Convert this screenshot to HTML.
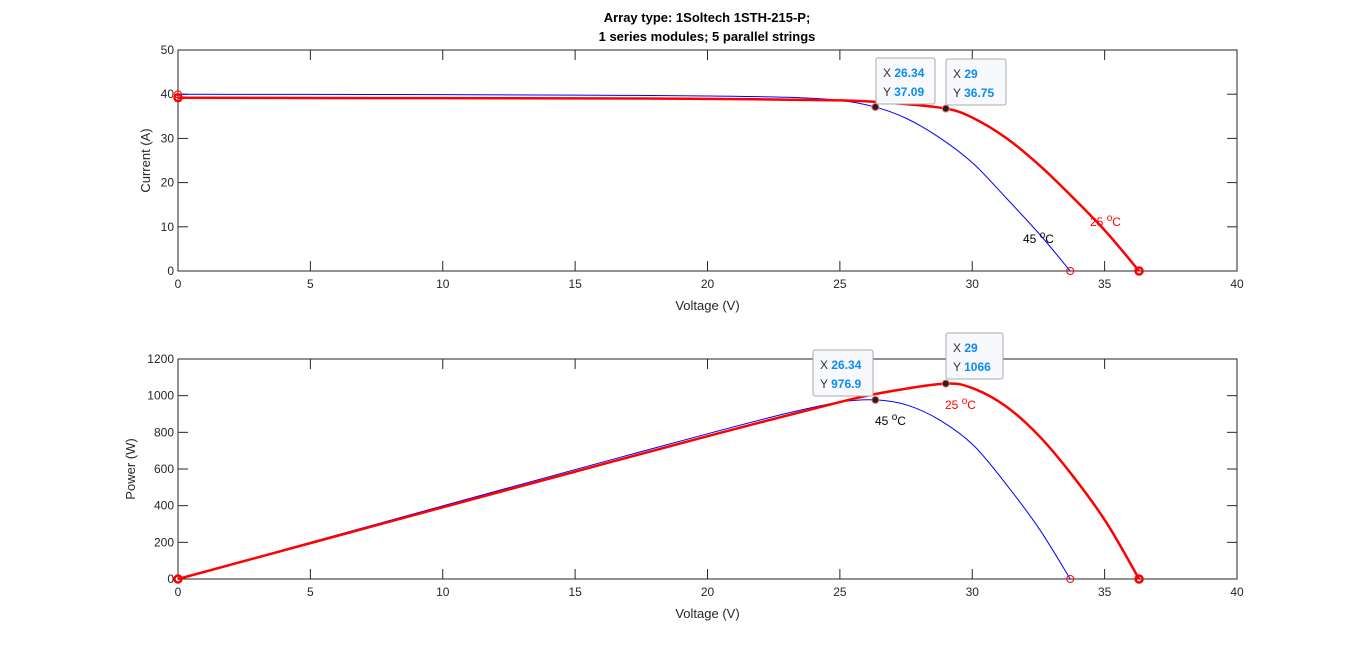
<!DOCTYPE html>
<html><head><meta charset="utf-8"><style>
body{margin:0;background:#fff;}
svg{display:block;font-family:"Liberation Sans",Arial,sans-serif;}
</style></head><body>
<svg id="fig" width="1366" height="651"></svg>
<script>
const voltRed=[0,5,10,15,20,25,27,29,30.04,31.3,32.56,33.82,35.08,36.3];
const curRed=[39.2,39.15,39.1,39.05,38.95,38.6,38,36.75,34.6,30,23.8,16.5,8.7,0];
const voltBlue=[0,5,10,15,20,23,25,26.34,27.52,28.78,30.04,31.3,32.56,33.7];
const curBlue=[40,39.95,39.9,39.8,39.6,39.3,38.6,37.09,34.5,30.1,24.3,16.4,8.2,0];
const xTicks=[0,5,10,15,20,25,30,35,40];
const iTicks=[0,10,20,30,40,50];
const pTicks=[0,200,400,600,800,1000,1200];
const tipsI=[{x:26.34,y:37.09},{x:29,y:36.75}];
const tipsP=[{x:26.34,y:976.9},{x:29,y:1066}];

const NS="http://www.w3.org/2000/svg";
const svg=document.getElementById('fig');
function mk(t,a,p,txt){const e=document.createElementNS(NS,t);for(const k in a)e.setAttribute(k,a[k]);if(txt!==undefined)e.textContent=txt;(p||svg).appendChild(e);return e;}

function axes(top,bottom,ymax,yTicks,ylabel,name){
  const L=178,R=1237;
  const sx=v=>L+(v/40)*(R-L);
  const sy=v=>bottom-(v/ymax)*(bottom-top);
  const g=mk('g',{});
  
  
  mk('rect',{x:L,y:top,width:R-L,height:bottom-top,fill:'#fff',stroke:'#262626','stroke-width':1},g);
  xTicks.forEach(t=>{const x=sx(t);
    mk('line',{x1:x,x2:x,y1:bottom,y2:bottom-10,stroke:'#262626'},g);
    mk('line',{x1:x,x2:x,y1:top,y2:top+10,stroke:'#262626'},g);
    const tx=mk('text',{x:x,y:bottom+17,'text-anchor':'middle','font-size':12,fill:'#262626'},g,t);
    
    
  });
  yTicks.forEach(t=>{const y=sy(t);
    mk('line',{x1:L,x2:L+10,y1:y,y2:y,stroke:'#262626'},g);
    mk('line',{x1:R,x2:R-10,y1:y,y2:y,stroke:'#262626'},g);
    const tx=mk('text',{x:L-4,y:y+4,'text-anchor':'end','font-size':12,fill:'#262626'},g,t);
    
    
  });
  const xl=mk('text',{x:(L+R)/2,y:bottom+39,'text-anchor':'middle','font-size':13,fill:'#262626'},g,'Voltage (V)');
  
  
  const lx=name==='iv'?150:135;
  const yl=mk('text',{x:lx,y:(top+bottom)/2,'text-anchor':'middle','font-size':13,fill:'#262626',transform:`rotate(-90 ${lx} ${(top+bottom)/2})`},g,ylabel);
  
  
  return {sx,sy,g};
}

function smoothPath(pts){
  let d='M'+pts[0][0].toFixed(2)+' '+pts[0][1].toFixed(2);
  for(let i=0;i<pts.length-1;i++){
    const p0=pts[Math.max(0,i-1)],p1=pts[i],p2=pts[i+1],p3=pts[Math.min(pts.length-1,i+2)];
    const c1=[p1[0]+(p2[0]-p0[0])/6,p1[1]+(p2[1]-p0[1])/6];
    const c2=[p2[0]-(p3[0]-p1[0])/6,p2[1]-(p3[1]-p1[1])/6];
    d+=` C${c1[0].toFixed(2)} ${c1[1].toFixed(2)} ${c2[0].toFixed(2)} ${c2[1].toFixed(2)} ${p2[0].toFixed(2)} ${p2[1].toFixed(2)}`;
  }
  return d;
}

function curve(ax,xs,ys,color,w,name){
  const pts=xs.map((v,i)=>[ax.sx(v),ax.sy(ys[i])]);
  const p=mk('path',{d:smoothPath(pts),fill:'none',stroke:color,'stroke-width':w,'stroke-linejoin':'round'},ax.g);
  
  
  [0,xs.length-1].forEach(i=>{
    const c=mk('circle',{cx:ax.sx(xs[i]),cy:ax.sy(ys[i]),r:3.5,fill:'none',stroke:'#f00','stroke-width':w>1?2.5:1},ax.g);
    
    
  });
}

function tip(ax,t,bx,by,bw,ylab){
  const g=mk('g',{},ax.g);
  
  
  mk('circle',{cx:ax.sx(t.x),cy:ax.sy(t.y),r:3.5,fill:'#222',stroke:'#f66','stroke-width':1},g);
  mk('rect',{x:bx,y:by,width:bw,height:46,rx:2,fill:'#f8f9fc',stroke:'#aaa'},g);
  const t1=mk('text',{x:bx+7,y:by+19,'font-size':12,fill:'#333'},g);
  mk('tspan',{},t1,'X ');
  mk('tspan',{fill:'#0a8cf0','font-weight':'bold'},t1,String(t.x));
  const t2=mk('text',{x:bx+7,y:by+38,'font-size':12,fill:'#333'},g);
  mk('tspan',{},t2,'Y ');
  mk('tspan',{fill:'#0a8cf0','font-weight':'bold'},t2,ylab);
}

function label(ax,x,y,txt,color){
  const t=mk('text',{x:x,y:y,'font-size':12,fill:color},ax.g);
  
  
  mk('tspan',{},t,txt+' ');
  mk('tspan',{dy:-5,'font-size':10},t,'o');
  mk('tspan',{dy:5},t,'C');
}

const t1=mk('text',{x:707,y:22,'text-anchor':'middle','font-size':13,'font-weight':'bold',fill:'#000'},svg,'Array type: 1Soltech 1STH-215-P;');


const t2=mk('text',{x:707,y:41,'text-anchor':'middle','font-size':13,'font-weight':'bold',fill:'#000'},svg,'1 series modules; 5 parallel strings');



const a1=axes(50,271,50,iTicks,'Current (A)','iv');
curve(a1,voltBlue,curBlue,'#00f',1,'iv-curve-45c');
curve(a1,voltRed,curRed,'#f00',2.5,'iv-curve-25c');
label(a1,1023,243,'45','#000');
label(a1,1090,226,'25','#f00');
tip(a1,tipsI[0],876,58,59,String(tipsI[0].y));
tip(a1,tipsI[1],946,59,60,String(tipsI[1].y));

const a2=axes(359,579,1200,pTicks,'Power (W)','pv');
curve(a2,voltBlue,voltBlue.map((v,i)=>v*curBlue[i]),'#00f',1,'pv-curve-45c');
curve(a2,voltRed,voltRed.map((v,i)=>v*curRed[i]),'#f00',2.5,'pv-curve-25c');
label(a2,875,425,'45','#000');
label(a2,945,409,'25','#f00');
tip(a2,tipsP[0],813,350,60,String(tipsP[0].y));
tip(a2,tipsP[1],946,333,57,String(tipsP[1].y));
</script>
</body></html>
